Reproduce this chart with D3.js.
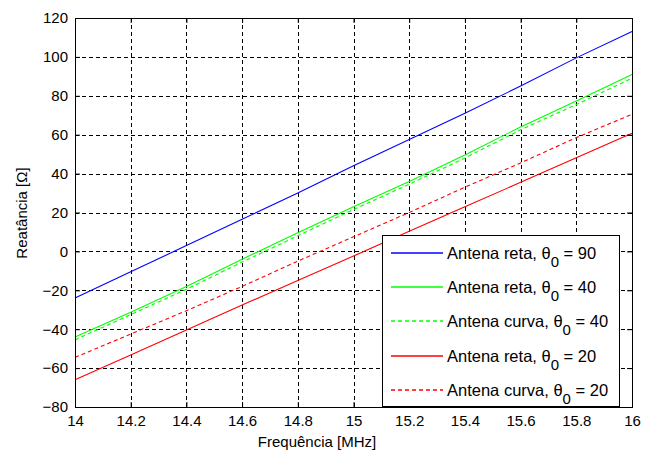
<!DOCTYPE html>
<html>
<head>
<meta charset="utf-8">
<script src="https://cdn.jsdelivr.net/npm/d3@7"></script>
<style>
body { margin: 0; background: #fff; }
svg { display: block; }
text { font-family: "Liberation Sans", Arial, sans-serif; fill: #000; }
</style>
</head>
<body>
<svg id="chart" width="652" height="455"></svg>
<script>
const freq = [14.0, 14.2, 14.4, 14.6, 14.8, 15.0, 15.2, 15.4, 15.6, 15.8, 16.0];
const retaTheta90  = [-24, -10.5, 3, 16.5, 30, 44, 57.5, 71, 85, 99.5, 113];
const retaTheta40  = [-44, -31.3, -18, -4, 9.6, 23, 36, 49.6, 64, 77.3, 91];
const curvaTheta40 = [-45.5, -32.5, -19.5, -5.5, 8, 21.5, 34.5, 48, 62.5, 75.5, 89];
const retaTheta20  = [-66, -53.3, -40.4, -27.6, -15, -2.4, 10.3, 23, 35.5, 48.2, 60.7];
const curvaTheta20 = [-54.5, -42.5, -30.5, -18, -5, 7.5, 20, 33, 45.5, 58.5, 70.5];
const xTicks = [14, 14.2, 14.4, 14.6, 14.8, 15, 15.2, 15.4, 15.6, 15.8, 16];
const yTicks = [-80, -60, -40, -20, 0, 20, 40, 60, 80, 100, 120];
const seriesNames = ["Antena reta", "Antena reta", "Antena curva", "Antena reta", "Antena curva"];
const seriesTheta = ["90", "40", "40", "20", "20"];

const series = [
  { label: seriesNames[0], theta: seriesTheta[0], values: retaTheta90,  color: "#0000ff", dash: null },
  { label: seriesNames[1], theta: seriesTheta[1], values: retaTheta40,  color: "#00ff00", dash: null },
  { label: seriesNames[2], theta: seriesTheta[2], values: curvaTheta40, color: "#00ff00", dash: "4,3" },
  { label: seriesNames[3], theta: seriesTheta[3], values: retaTheta20,  color: "#ff0000", dash: null },
  { label: seriesNames[4], theta: seriesTheta[4], values: curvaTheta20, color: "#ff0000", dash: "4,3" }
];

const svg = d3.select("#chart");
const L = 75, R = 632, T = 18, B = 407;
const x = d3.scaleLinear().domain([14, 16]).range([L, R]);
const y = d3.scaleLinear().domain([-80, 120]).range([B, T]);

// grid
const grid = svg.append("g");
grid.selectAll("line.vx").data(xTicks.slice(1, -1)).enter().append("line")
  .attr("x1", d => Math.round(x(d)) + 0.5).attr("x2", d => Math.round(x(d)) + 0.5)
  .attr("y1", T).attr("y2", B)
  .attr("stroke", "#000").attr("stroke-width", 1).attr("stroke-dasharray", "4,3");
grid.selectAll("line.hy").data(yTicks.slice(1, -1)).enter().append("line")
  .attr("y1", d => Math.round(y(d)) + 0.5).attr("y2", d => Math.round(y(d)) + 0.5)
  .attr("x1", L).attr("x2", R)
  .attr("stroke", "#000").attr("stroke-width", 1).attr("stroke-dasharray", "4,3");

// lines
const line = d3.line().x((d, i) => x(freq[i])).y(d => y(d));
svg.append("g").selectAll("path").data(series).enter().append("path")
  .attr("d", d => line(d.values))
  .attr("fill", "none")
  .attr("stroke", d => d.color)
  .attr("stroke-width", 1.1)
  .attr("stroke-dasharray", d => d.dash);

// axes
const fontSize = 15;
const xAxisB = d3.axisBottom(x).tickValues(xTicks).tickSize(-5).tickPadding(8).tickFormat(d3.format("~g"));
const xAxisT = d3.axisTop(x).tickValues(xTicks).tickSize(-5).tickFormat("");
const yAxisL = d3.axisLeft(y).tickValues(yTicks).tickSize(-5).tickPadding(7).tickFormat(d3.format("~g"));
const yAxisR = d3.axisRight(y).tickValues(yTicks).tickSize(-5).tickFormat("");

function style(g) {
  g.select(".domain").remove();
  g.selectAll(".tick line").attr("stroke", "#000");
  g.selectAll(".tick text").attr("font-size", fontSize).attr("font-family", "Liberation Sans, Arial, sans-serif").attr("fill", "#000");
}
svg.append("g").attr("transform", `translate(0,${B})`).call(xAxisB).call(style);
svg.append("g").attr("transform", `translate(0,${T})`).call(xAxisT).call(style);
svg.append("g").attr("transform", `translate(${L},0)`).call(yAxisL).call(style);
svg.append("g").attr("transform", `translate(${R},0)`).call(yAxisR).call(style);

svg.append("rect").attr("x", L + 0.5).attr("y", T + 0.5).attr("width", R - L).attr("height", B - T)
  .attr("fill", "none").attr("stroke", "#000").attr("stroke-width", 1);

// axis labels
svg.append("text").attr("x", 317).attr("y", 447).attr("text-anchor", "middle")
  .attr("font-size", fontSize).text("Frequência [MHz]");
svg.append("text").attr("transform", "translate(27,213) rotate(-90)").attr("text-anchor", "middle")
  .attr("font-size", fontSize).text("Reatância [Ω]");

// legend
const lg = svg.append("g");
lg.append("rect").attr("x", 382.5).attr("y", 235.5).attr("width", 237).attr("height", 171)
  .attr("fill", "#fff").attr("stroke", "#000").attr("stroke-width", 1);
const rowY = [253, 287, 321, 356, 390];
series.forEach((s, i) => {
  const ry = rowY[i];
  lg.append("line").attr("x1", 391).attr("x2", 443).attr("y1", ry).attr("y2", ry)
    .attr("stroke", s.color).attr("stroke-width", 1.3).attr("stroke-dasharray", s.dash);
  const t = lg.append("text").attr("x", 447).attr("y", ry + 6).attr("font-size", 16.5);
  t.append("tspan").text(s.label + ", θ");
  t.append("tspan").attr("dy", 8).attr("font-size", 15).text("0");
  t.append("tspan").attr("dy", -8).text(" = " + s.theta);
});
</script>
</body>
</html>
